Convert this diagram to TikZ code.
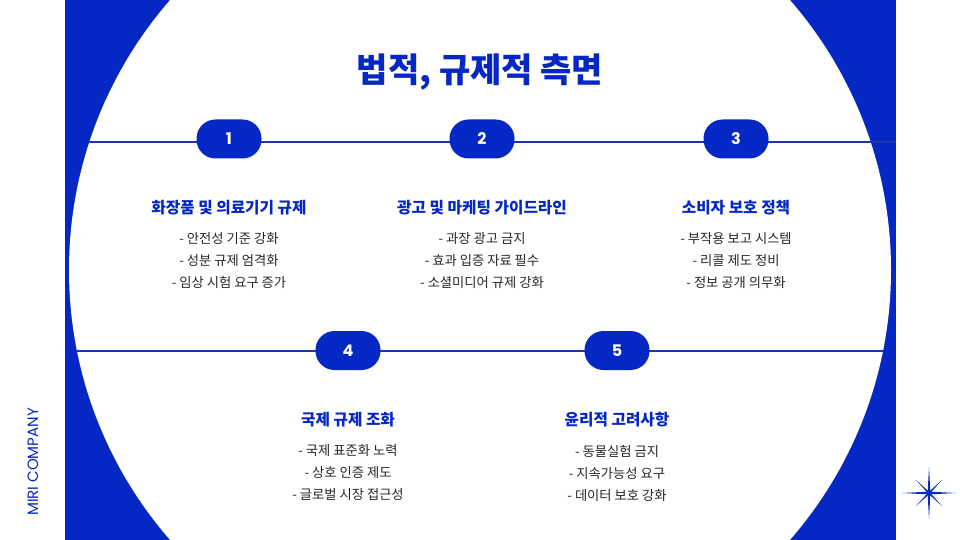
\documentclass[tikz,border=0pt]{standalone}
\usepackage{fontspec}
\setmainfont{Noto Sans CJK KR}
\newfontfamily\numfont{Poppins}
\usetikzlibrary{calc}
\definecolor{miriblue}{HTML}{0527C4}
\definecolor{lineblue}{HTML}{1D36B0}
\definecolor{bodygray}{HTML}{262626}

\begin{document}
\begin{tikzpicture}[x=1pt,y=-1pt,
  badge/.style={fill=miriblue, rounded corners=19pt, minimum width=65pt, minimum height=39pt, inner sep=0pt, text=white, font=\numfont\bfseries\fontsize{16}{16}\selectfont},
  head/.style={text=miriblue, font=\bfseries\fontsize{15.7}{15.7}\selectfont},
  item/.style={text=bodygray, font=\fontsize{13.3}{22}\selectfont, align=center}]
\useasboundingbox (0,0) rectangle (960,540);
% blue band and white disc
\fill [miriblue] (65,0) rectangle (896,540);
\fill [white] (480,270) circle [radius=411];
% title
\node [text=miriblue, font=\bfseries\fontsize{34}{34}\selectfont] (title) at (480,72) {법적, 규제적 측면};
% timelines
\coordinate (l1) at (89,142); \coordinate (r1) at (896,142);
\coordinate (l2) at (77,351); \coordinate (r2) at (883,351);
\draw [lineblue, line width=2pt] (l1) -- (r1);
\draw [lineblue, line width=2pt] (l2) -- (r2);
% badges
\node [badge] (b1) at (229,139) {1};
\node [badge] (b2) at (482,139) {2};
\node [badge] (b3) at (736,139) {3};
\node [badge] (b4) at (348,350.5) {4};
\node [badge] (b5) at (617,350.5) {5};
% row 1
\node [head] (h1) at (229,208) {화장품 및 의료기기 규제};
\node [item] (t1) at (229,261) {- 안전성 기준 강화\\- 성분 규제 엄격화\\- 임상 시험 요구 증가};
\node [head] (h2) at (482,208) {광고 및 마케팅 가이드라인};
\node [item] (t2) at (482,261) {- 과장 광고 금지\\- 효과 입증 자료 필수\\- 소셜미디어 규제 강화};
\node [head] (h3) at (736,208) {소비자 보호 정책};
\node [item] (t3) at (736,261) {- 부작용 보고 시스템\\- 리콜 제도 정비\\- 정보 공개 의무화};
% row 2
\node [head] (h4) at (348,420) {국제 규제 조화};
\node [item] (t4) at (348,473) {- 국제 표준화 노력\\- 상호 인증 제도\\- 글로벌 시장 접근성};
\node [head] (h5) at (617,420) {윤리적 고려사항};
\node [item] (t5) at (617,473) {- 동물실험 금지\\- 지속가능성 요구\\- 데이터 보호 강화};
% brand
\node [rotate=90, text=miriblue, font=\numfont\fontsize{15}{15}\selectfont] (brand) at (33,462) {MIRI COMPANY};
% sparkle
\coordinate (st) at (929,493);
\fill [miriblue] ($(st)+(0,-26)$) -- ($(st)+(1.4,0)$) -- ($(st)+(0,26)$) -- ($(st)+(-1.4,0)$) -- cycle;
\fill [miriblue] ($(st)+(-27,0)$) -- ($(st)+(0,-1.4)$) -- ($(st)+(27,0)$) -- ($(st)+(0,1.4)$) -- cycle;
\fill [miriblue] ($(st)+(-13,-13)$) -- ($(st)+(0.7,-0.7)$) -- ($(st)+(13,13)$) -- ($(st)+(-0.7,0.7)$) -- cycle;
\fill [miriblue] ($(st)+(13,-13)$) -- ($(st)+(0.7,0.7)$) -- ($(st)+(-13,13)$) -- ($(st)+(-0.7,-0.7)$) -- cycle;
\fill [miriblue] (st) circle [radius=2.5];
\end{tikzpicture}
\end{document}
